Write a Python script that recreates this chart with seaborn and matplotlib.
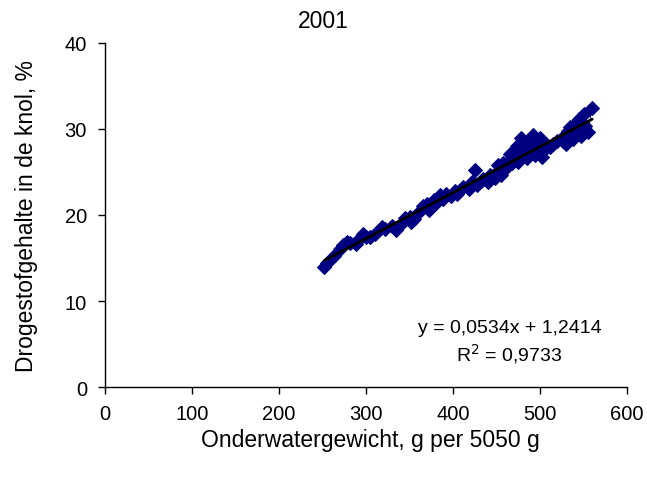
import matplotlib
matplotlib.use("Agg")
import matplotlib.pyplot as plt
import seaborn as sns
import numpy as np
import pandas as pd

title = "2001"
x_label = "Onderwatergewicht, g per 5050 g"
y_label = "Drogestofgehalte in de knol, %"

onderwater = [252, 255, 263, 270, 273, 278, 282, 288, 290, 297, 300, 305, 310, 318,
              322, 330, 335, 340, 345, 350, 352, 355, 360, 365, 370, 372, 378, 380,
              385, 388, 392, 398, 402, 405, 412, 418, 422, 425, 428, 432, 435, 440,
              443, 448, 450, 452, 455, 458, 460, 463, 466, 468, 470, 472, 474, 475,
              478, 480, 482, 485, 487, 488, 490, 492, 494, 495, 498, 500, 502, 505,
              508, 512, 515, 520, 525, 528, 530, 532, 535, 538, 540, 542, 545, 547,
              548, 550, 552, 555, 560]
drogestof = [14.0, 14.4, 15.2, 16.0, 16.5, 16.9, 16.8, 16.6, 17.0, 17.8, 17.5, 17.4,
             17.8, 18.6, 18.4, 18.7, 18.3, 18.9, 19.6, 19.8, 19.2, 19.5, 20.2, 21.0,
             21.3, 20.6, 21.8, 21.4, 22.3, 21.9, 22.4, 22.2, 22.8, 22.5, 23.3, 23.0,
             23.8, 25.2, 23.5, 24.0, 24.2, 23.8, 24.6, 24.3, 25.0, 25.8, 24.6, 26.0,
             25.4, 26.2, 27.1, 26.0, 26.5, 27.5, 28.0, 26.2, 29.0, 27.2, 28.4, 26.6,
             27.8, 28.8, 28.2, 29.3, 27.0, 28.6, 27.4, 28.9, 26.8, 27.6, 28.1, 27.9,
             28.3, 28.6, 29.0, 28.5, 28.2, 29.8, 30.2, 28.8, 30.6, 29.4, 31.2, 29.2,
             30.0, 31.8, 30.4, 29.6, 32.5]

# linear trendline coefficients as reported on the chart
slope = 0.0534
intercept = 1.2414
r_squared = 0.9733

x_ticks = [0, 100, 200, 300, 400, 500, 600]
y_ticks = [0, 10, 20, 30, 40]

df = pd.DataFrame({"x": onderwater, "y": drogestof})

sns.set_theme(style="ticks")
plt.rcParams["font.family"] = ["Liberation Sans", "DejaVu Sans"]

W, H = 647, 481
fig = plt.figure(figsize=(W / 100, H / 100), dpi=100)
ax = fig.add_axes([105 / W, 1 - 388 / H, (627 - 105) / W, (388 - 44) / H])

navy = "#000080"
sns.lineplot(data=df, x="x", y="y", ax=ax, estimator=None, sort=True,
             color=navy, linewidth=0.6, marker="D", markersize=7,
             markeredgecolor=navy, markerfacecolor=navy)

xfit = np.array([min(onderwater), max(onderwater)])
ax.plot(xfit, slope * xfit + intercept, color="black", linewidth=2, zorder=5)

ax.set_xlim(x_ticks[0], x_ticks[-1])
ax.set_ylim(y_ticks[0], y_ticks[-1])
ax.set_xticks(x_ticks)
ax.set_yticks(y_ticks)
ax.tick_params(axis="both", direction="out", length=5, width=1, colors="black",
               labelsize=14.5)
ax.tick_params(axis="x", pad=7)
ax.tick_params(axis="y", pad=8)
for s in ("top", "right"):
    ax.spines[s].set_visible(False)
for s in ("left", "bottom"):
    ax.spines[s].set_color("black")
    ax.spines[s].set_linewidth(1)

ax.set_xlabel("")
ax.set_ylabel("")
fig.text(370 / W, 1 - 441 / H, x_label, ha="center", va="center",
         fontsize=16.5, color="black")
fig.text(27 / W, 1 - 216 / H, y_label, ha="center", va="center",
         rotation=90, fontsize=16.5, color="black")

def fmt(v):
    return f"{v}".replace(".", ",")

eq = f"y = {fmt(slope)}x + {fmt(intercept)}\nR$^2$ = {fmt(r_squared)}"
ax.text(465, 5.2, eq, ha="center", va="center", multialignment="center",
        fontsize=14, color="black", linespacing=1.25)

fig.text(0.5, 1 - 21 / H, title, ha="center", va="center", fontsize=16.5,
         color="black")

fig.savefig("out.png", dpi=100)
